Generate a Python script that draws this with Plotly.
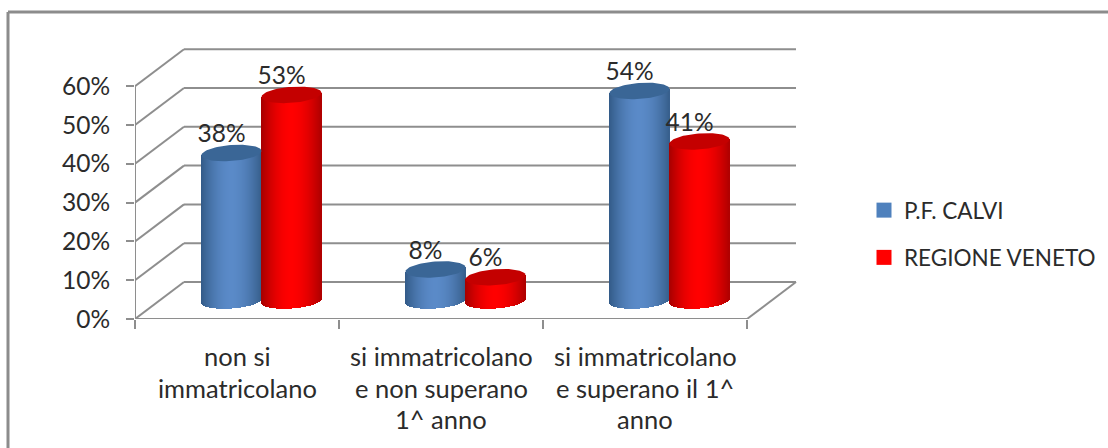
import numpy as np
import plotly.graph_objects as go

categories = [["non si", "immatricolano"],
              ["si immatricolano", "e non superano", "1^ anno"],
              ["si immatricolano", "e superano il 1^", "anno"]]
series_names = ["P.F. CALVI", "REGIONE VENETO"]
calvi = [38, 8, 54]
veneto = [53, 6, 41]
y_ticks = [0, 10, 20, 30, 40, 50, 60]

FONT = "Lato"
TXT = "#2b2b2b"
GRID = "#8e8e8e"
SIZE = 24.5
W, H = 1108, 448
X0, X1, Y0, YT = 135, 808, 319, 30
PX_X = 204.0          # pixels per category
PX_Y = 3.88           # pixels per percent
DX, DY = 49 / PX_X, 37 / PX_Y  # wall depth in axis units
R, RY, TILT = 30.0, 8.0, 0.07  # cylinder radius, cap radius, cap tilt (pixels)


def shade(dark_l, light, dark_r, t):
    k = abs(t) ** 1.8
    end = dark_l if t < 0 else dark_r
    return "rgb(%d,%d,%d)" % tuple(round(light[i] + (end[i] - light[i]) * k) for i in range(3))


STYLE = {-1: ((50, 90, 135), (90, 138, 200), (55, 95, 140)),
         1: ((165, 0, 0), (255, 0, 0), (175, 0, 0))}
CAP = {-1: "#3a6696", 1: "#c40000"}
SOLID = {-1: "#4f81bd", 1: "#ff0000"}


def cylinder_slices(values, side):
    xs, ys, bases, cols = [], [], [], []
    for i, v in enumerate(values):
        cx = i + DX / 2 + side * R / PX_X
        for u in np.arange(-R + 0.5, R, 1.0):
            t = u / R
            low = RY * np.sqrt(1 - t * t)
            xs.append(cx + u / PX_X)
            bases.append(DY / 2 + (TILT * u - low) / PX_Y)
            ys.append(v + low / PX_Y)
            cols.append(shade(*STYLE[side], t))
    return xs, ys, bases, cols


fig = go.Figure()

for side, vals, name in ((-1, calvi, series_names[0]), (1, veneto, series_names[1])):
    xs, ys, bases, cols = cylinder_slices(vals, side)
    fig.add_trace(go.Bar(x=xs, y=ys, base=bases, width=1.0 / PX_X,
                         marker=dict(color=cols, line=dict(width=0)),
                         showlegend=False, hoverinfo="skip", name=name))

th = np.linspace(0, 2 * np.pi, 80)
for side, vals in ((-1, calvi), (1, veneto)):
    for i, v in enumerate(vals):
        cx = i + DX / 2 + side * R / PX_X
        ex = R * np.cos(th)
        ey = RY * np.sin(th) + TILT * ex
        fig.add_trace(go.Scatter(x=cx + ex / PX_X, y=v + DY / 2 + ey / PX_Y, mode="lines",
                                 fill="toself", fillcolor=CAP[side], line=dict(width=0),
                                 showlegend=False, hoverinfo="skip"))

for side, vals in ((-1, calvi), (1, veneto)):
    fig.add_trace(go.Scatter(
        x=[i + DX / 2 + (side * R - 10) / PX_X for i in range(3)],
        y=[v + DY / 2 + 17 / PX_Y for v in vals],
        text=["%d%%" % v for v in vals], mode="text", textposition="middle center",
        textfont=dict(family=FONT, size=SIZE, color=TXT), showlegend=False, hoverinfo="skip"))

for side, name in ((-1, series_names[0]), (1, series_names[1])):
    fig.add_trace(go.Scatter(x=[None], y=[None], mode="markers", name=name, legendgroup=name,
                             marker=dict(symbol="square", size=15, color=SOLID[side])))

line = dict(color=GRID, width=2)
shapes = []
for v in y_ticks:
    shapes.append(dict(type="line", layer="below", x0=-0.5, x1=-0.5 + DX, y0=v, y1=v + DY, line=line))
    shapes.append(dict(type="line", layer="below", x0=-0.5 + DX, x1=2.5 + DX, y0=v + DY, y1=v + DY, line=line))
shapes.append(dict(type="line", layer="below", x0=-0.5, x1=-0.5, y0=0, y1=60, line=line))
shapes.append(dict(type="line", layer="below", x0=-0.5, x1=2.5, y0=0, y1=0, line=line))
shapes.append(dict(type="line", layer="below", x0=2.5, x1=2.5 + DX, y0=0, y1=DY, line=line))


def px(xp):
    return (xp - X0) / (X1 - X0)


def py(yp):
    return (Y0 - yp) / (Y0 - YT)


border = dict(color="#8c8c8c", width=3)
shapes.append(dict(type="line", xref="paper", yref="paper", x0=px(8), x1=px(8), y0=py(12), y1=py(448), line=border))
shapes.append(dict(type="line", xref="paper", yref="paper", x0=px(8), x1=px(1108), y0=py(12), y1=py(12), line=border))

annotations = []
for i, lines in enumerate(categories):
    for j, t in enumerate(lines):
        annotations.append(dict(x=i, xref="x", y=py(355.5 + 32 * j), yref="paper", text=t, showarrow=False,
                                xanchor="center", yanchor="middle",
                                font=dict(family=FONT, size=25.5, color=TXT)))

fig.update_layout(
    width=W, height=H, margin=dict(l=X0, r=W - X1, t=YT, b=H - Y0, autoexpand=False),
    paper_bgcolor="white", plot_bgcolor="rgba(0,0,0,0)", barmode="overlay", bargap=0,
    shapes=shapes, annotations=annotations,
    font=dict(family=FONT, size=SIZE, color=TXT),
    xaxis=dict(range=[-0.5, -0.5 + (X1 - X0) / PX_X], showgrid=False, zeroline=False,
               showticklabels=False, ticks="", tickvals=[0, 1, 2],
               minor=dict(tickvals=[-0.5, 0.5, 1.5, 2.5], ticks="outside", ticklen=9,
                          tickcolor=GRID, tickwidth=2, showgrid=False)),
    yaxis=dict(range=[0, (Y0 - YT) / PX_Y], tickvals=y_ticks, ticktext=["%d%%" % v for v in y_ticks],
               showgrid=False, zeroline=False, ticks="outside", ticklen=8, tickcolor=GRID, tickwidth=2,
               ticklabelstandoff=11, tickfont=dict(family=FONT, size=SIZE, color=TXT)),
    legend=dict(x=px(864), y=py(189), xanchor="left", yanchor="top", tracegroupgap=15, itemwidth=30,
                font=dict(family=FONT, size=22.5, color=TXT), bgcolor="rgba(0,0,0,0)"),
)

fig.write_html("out.html", post_script="document.body.style.margin='0';",
               config={"displayModeBar": False})
